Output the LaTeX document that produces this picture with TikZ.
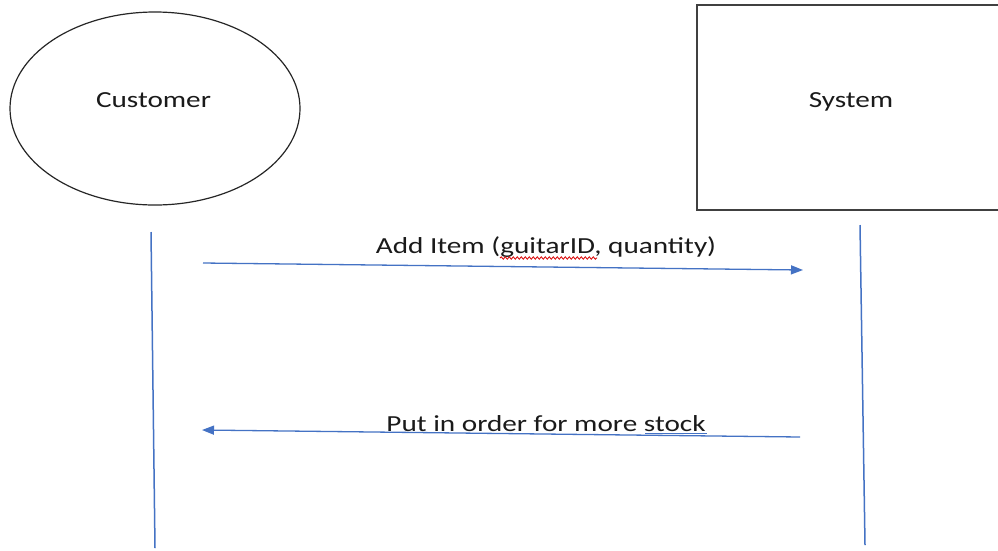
\documentclass[tikz,border=0pt]{standalone}
\usepackage{fontspec}
\setmainfont{Carlito}[FakeStretch=1.27]
\usetikzlibrary{shapes.geometric,arrows.meta,decorations.pathmorphing}
\definecolor{lineblue}{HTML}{4472C4}
\definecolor{txt}{HTML}{1A1A1A}
\begin{document}
\begin{tikzpicture}[x=1pt,y=-1pt,
  lbl/.style={font=\fontsize{23}{26}\selectfont, text=txt, inner sep=0pt, anchor=base},
  actor/.style={draw=black!85, line width=1.2pt, ellipse, minimum width=290pt, minimum height=193pt, inner sep=0pt},
  sysbox/.style={draw=black!75, line width=1.6pt},
  lifeline/.style={draw=lineblue, line width=1.5pt},
  msg/.style={draw=lineblue, line width=1.3pt, -{Triangle[length=12pt,width=9pt]}}]
\clip (0,0) rectangle (998,550);
\fill[white] (0,0) rectangle (998,550);
% actors
\node[actor] (cust) at (155,108.5) {};
\node[lbl] (custlbl) at (153.5,107) {Customer};
\draw[sysbox] (697,5) rectangle (1010,210);
\coordinate (sysc) at (851,107);
\node[lbl] (syslbl) at (sysc) {System};
% lifelines
\coordinate (l1a) at (151,232);
\coordinate (l1b) at (155,548);
\coordinate (l2a) at (860,225);
\coordinate (l2b) at (865,545);
\draw[lifeline] (l1a) -- (l1b);
\draw[lifeline] (l2a) -- (l2b);
% messages
\coordinate (m1s) at (203,263);
\coordinate (m1e) at (803,270);
\draw[msg] (m1s) -- (m1e);
\node[lbl] (m1lbl) at (546,253) {Add Item (guitarID, quantity)};
\coordinate (w1) at (500,258);
\coordinate (w2) at (597,258);
\draw[red!85!black, line width=0.8pt, decorate, decoration={snake, amplitude=1.2pt, segment length=4pt}] (w1) -- (w2);
\coordinate (m2s) at (800,437);
\coordinate (m2e) at (202,430);
\draw[msg] (m2s) -- (m2e);
\node[lbl] (m2lbl) at (546,431.5) {Put in order for more stock};
\coordinate (u1) at (645,433.5);
\coordinate (u2) at (707,433.5);
\draw[lineblue, line width=1.2pt] (u1) -- (u2);
\end{tikzpicture}
\end{document}
